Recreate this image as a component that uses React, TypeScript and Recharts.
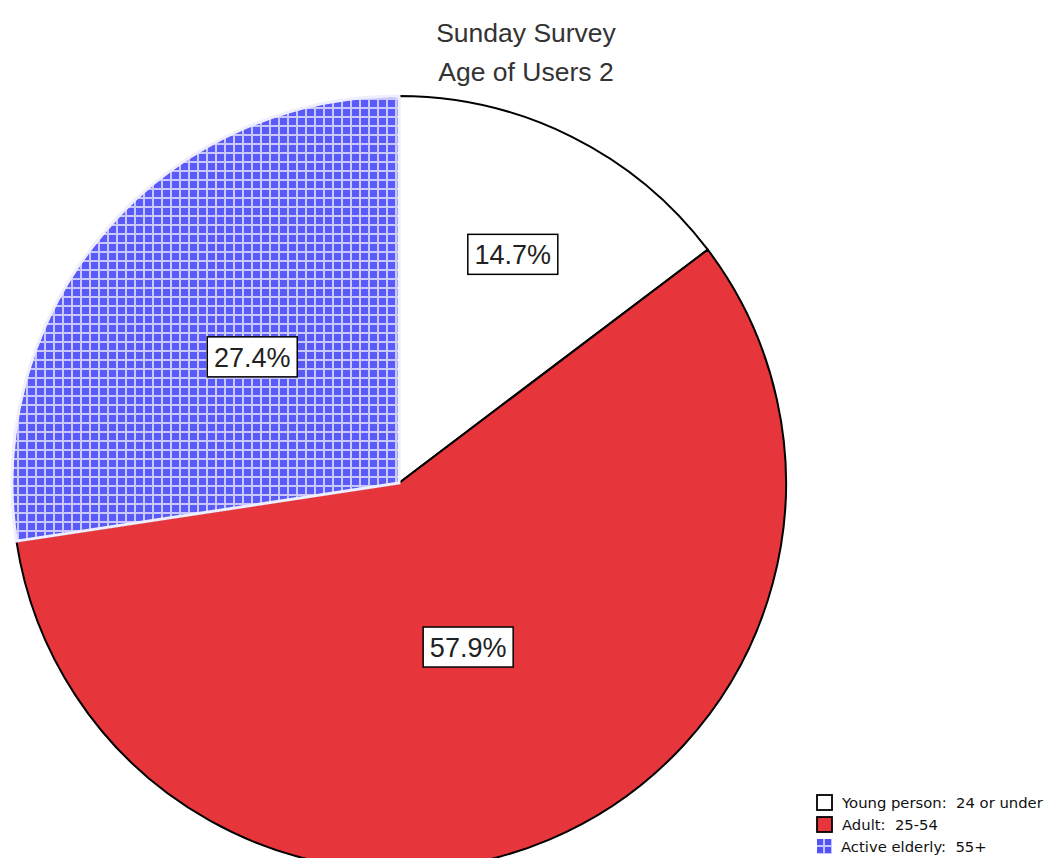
import { Cell, Pie, PieChart } from "recharts"

const categories = ["Young person:  24 or under", "Adult:  25-54", "Active elderly:  55+"]
const shares = [14.7, 57.9, 27.4]
const fills = ["#ffffff", "#e6363b", "url(#grid)"]
const strokes = ["#000000", "#000000", "#eeeeff"]
const labelRadius = [0.66, 0.46, 0.5]

const data = categories.map((name, i) => ({ name, value: shares[i] }))

const FONT = "'Liberation Sans', Arial, sans-serif"
const RAD = Math.PI / 180

function renderLabel(props: any) {
  const { cx, cy, midAngle, outerRadius, index, value } = props
  const r = outerRadius * labelRadius[index]
  const x = cx + r * Math.cos(-midAngle * RAD)
  const y = cy + r * Math.sin(-midAngle * RAD)
  return (
    <g>
      <rect x={x - 45} y={y - 20} width={90} height={40} fill="#fff" stroke="#000" strokeWidth={1.5} />
      <text x={x} y={y + 1} textAnchor="middle" dominantBaseline="central" fontSize={27} fill="#222" fontFamily={FONT}>
        {value.toFixed(1)}%
      </text>
    </g>
  )
}

function LegendMarker({ index }: { index: number }) {
  if (index === 2) {
    return (
      <svg width={16} height={16} style={{ display: "block" }}>
        <rect x={1} y={1} width={15} height={15} fill="#c4c4ff" />
        <rect x={1} y={1} width={6} height={6} fill="#5252f5" />
        <rect x={9} y={1} width={6} height={6} fill="#5252f5" />
        <rect x={1} y={9} width={6} height={6} fill="#5252f5" />
        <rect x={9} y={9} width={6} height={6} fill="#5252f5" />
      </svg>
    )
  }
  return (
    <svg width={17} height={17} style={{ display: "block" }}>
      <rect x={1} y={1} width={15} height={15} fill={fills[index]} stroke="#000" strokeWidth={1.8} />
    </svg>
  )
}

export default function App() {
  return (
    <div style={{ position: "absolute", left: 0, top: 0, width: 1048, height: 858, background: "#fff", overflow: "hidden" }}>
      <PieChart width={1048} height={858} margin={{ top: 0, right: 0, bottom: 0, left: 0 }}>
        <defs>
          <pattern id="grid" width={9} height={9} patternUnits="userSpaceOnUse">
            <rect width={9} height={9} fill="#c8c8ff" />
            <rect x={1} y={1} width={7} height={7} fill="#5a5af8" />
          </pattern>
        </defs>
        <Pie
          data={data}
          dataKey="value"
          nameKey="name"
          cx={399}
          cy={483}
          outerRadius={387}
          startAngle={90}
          endAngle={-270}
          label={renderLabel}
          labelLine={false}
          isAnimationActive={false}
        >
          {data.map((d, i) => (
            <Cell key={d.name} fill={fills[i]} stroke={strokes[i]} strokeWidth={i === 2 ? 3 : 2} />
          ))}
        </Pie>
      </PieChart>
      <div
        style={{
          position: "absolute",
          top: 14,
          left: 0,
          width: 1052,
          textAlign: "center",
          fontFamily: FONT,
          fontSize: 26.5,
          lineHeight: "39px",
          color: "#333",
        }}
      >
        <div>Sunday Survey</div>
        <div>Age of Users 2</div>
      </div>
      <div style={{ position: "absolute", left: 816, top: 791, fontFamily: "'DejaVu Sans', Verdana, sans-serif", fontSize: 14.8, color: "#111" }}>
        {categories.map((c, i) => (
          <div key={c} style={{ display: "flex", alignItems: "center", height: 22 }}>
            <LegendMarker index={i} />
            <span style={{ marginLeft: 9, whiteSpace: "pre" }}>{c}</span>
          </div>
        ))}
      </div>
    </div>
  )
}
